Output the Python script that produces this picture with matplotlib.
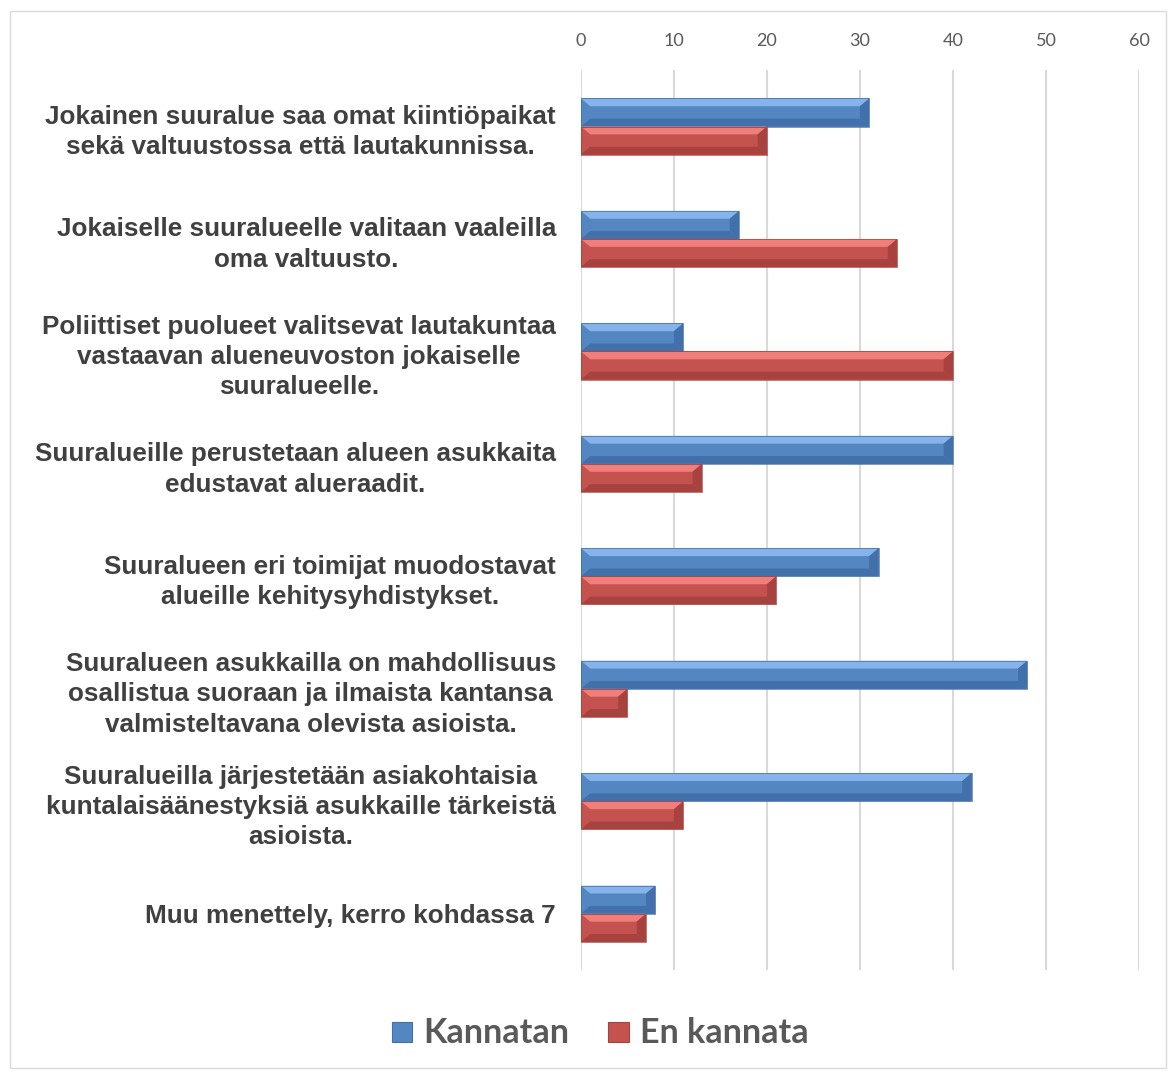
import matplotlib.pyplot as plt
from matplotlib.patches import Polygon, Rectangle
import numpy as np

# kysymykset ja vastaukset
kysymykset = [
    "Jokainen suuralue saa omat kiintiöpaikat\nsekä valtuustossa että lautakunnissa.",
    "Jokaiselle suuralueelle valitaan vaaleilla\noma valtuusto.",
    "Poliittiset puolueet valitsevat lautakuntaa\nvastaavan alueneuvoston jokaiselle\nsuuralueelle.",
    "Suuralueille perustetaan alueen asukkaita\nedustavat alueraadit.",
    "Suuralueen eri toimijat muodostavat\nalueille kehitysyhdistykset.",
    "Suuralueen asukkailla on mahdollisuus\nosallistua suoraan ja ilmaista kantansa\nvalmisteltavana olevista asioista.",
    "Suuralueilla järjestetään asiakohtaisia\nkuntalaisäänestyksiä asukkaille tärkeistä\nasioista.",
    "Muu menettely, kerro kohdassa 7",
]
kannatan = [31, 17, 11, 40, 32, 48, 42, 8]
en_kannata = [20, 34, 40, 13, 21, 5, 11, 7]
sarjat = ["Kannatan", "En kannata"]
xticks = [0, 10, 20, 30, 40, 50, 60]

# värit: perus, vaalea, tumma
sininen = ("#5486C2", "#86B4EA", "#4170AA")
punainen = ("#C4524F", "#F07E7A", "#A8423F")


def viisto_palkki(ax, y, w, h, col, dx=1.0, dyf=0.28):
    """palkki jossa viistetyt reunat (kuten Excelin 3D-palkki)"""
    base, light, dark = col
    y0, y1 = y - h / 2, y + h / 2
    dy = h * dyf
    dx = min(dx, w / 2)
    ax.add_patch(Rectangle((0, y0), w, h, facecolor=base, edgecolor="none", zorder=3))
    # yläreuna (y kasvaa alaspäin, joten y0 on yläreuna)
    ax.add_patch(Polygon([(0, y0), (w, y0), (w - dx, y0 + dy), (dx, y0 + dy)],
                         facecolor=light, edgecolor="none", zorder=4))
    ax.add_patch(Polygon([(0, y1), (w, y1), (w - dx, y1 - dy), (dx, y1 - dy)],
                         facecolor=dark, edgecolor="none", zorder=4))
    ax.add_patch(Polygon([(w, y0), (w - dx, y0 + dy), (w - dx, y1 - dy), (w, y1)],
                         facecolor=dark, edgecolor="none", zorder=4))
    ax.add_patch(Rectangle((0, y0), w, h, facecolor="none", edgecolor=dark,
                           linewidth=0.5, zorder=5))


fig = plt.figure(figsize=(11.76, 10.73), dpi=100)
ax = fig.add_axes([0.494, 0.096, 0.4745, 0.8385])

n = len(kysymykset)
y = np.arange(n)
h = 0.25
for i in range(n):
    viisto_palkki(ax, y[i] - h / 2, kannatan[i], h, sininen)
    viisto_palkki(ax, y[i] + h / 2, en_kannata[i], h, punainen)

ax.set_xlim(0, 60)
ax.set_ylim(n - 0.5, -0.5)
ax.set_xticks(xticks)
ax.xaxis.tick_top()
ax.tick_params(axis="x", length=0, pad=15, labelsize=13, labelcolor="#595959")
for lab in ax.get_xticklabels():
    lab.set_family("Lato")
ax.grid(axis="x", color="#D9D9D9", linewidth=1.5, zorder=0)
ax.set_axisbelow(True)
for s in ax.spines.values():
    s.set_visible(False)

ax.set_yticks(y)
ax.set_yticklabels(kysymykset)
ax.tick_params(axis="y", length=0, pad=18)
for lab in ax.get_yticklabels():
    lab.set_family("Liberation Sans")
    lab.set_weight("bold")
    lab.set_fontsize(18.8)
    lab.set_color("#404040")
    lab.set_multialignment("center")
    lab.set_linespacing(1.33)

# selite
for x0, nimi, col in [(0.333, sarjat[0], sininen), (0.517, sarjat[1], punainen)]:
    fig.patches.append(Rectangle((x0, 0.0285), 0.0175, 0.0192, transform=fig.transFigure,
                                 facecolor=col[0], edgecolor=col[2], linewidth=0.8))
    fig.text(x0 + 0.027, 0.037, nimi, family="Lato", weight="bold", fontsize=24.5,
             color="#595959", va="center", ha="left")

# kehys
fig.patches.append(Rectangle((0.0085, 0.005), 0.983, 0.985, transform=fig.transFigure,
                             facecolor="none", edgecolor="#D9D9D9", linewidth=1))

fig.savefig("out.png", dpi=100)
